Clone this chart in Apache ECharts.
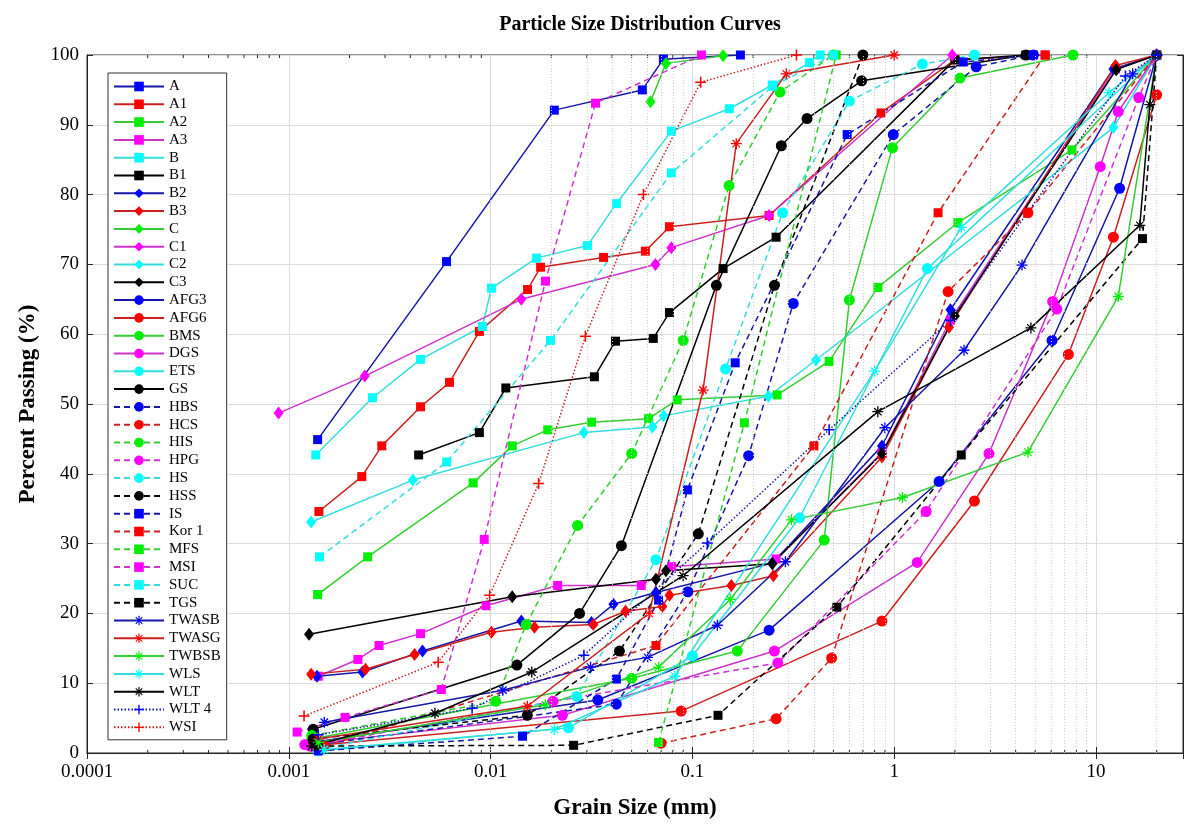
<!DOCTYPE html>
<html>
<head>
<meta charset="utf-8">
<script src="https://cdn.jsdelivr.net/npm/echarts/dist/echarts.min.js"></script>
<style>
  html, body { margin: 0; padding: 0; background: #fff; }
  #chart { width: 1187px; height: 825px; }
</style>
</head>
<body>
<div id="chart"></div>
<script>
// grain size (mm), percent passing
const A      = [[0.00139,44.9],[0.00605,70.4],[0.0207,92.1],[0.0565,95.0],[0.0718,99.4],[0.173,100]];
const A1     = [[0.00141,34.6],[0.0023,39.6],[0.00289,44.0],[0.0045,49.6],[0.00626,53.1],[0.0088,60.4],[0.01525,66.4],[0.0177,69.6],[0.0363,71.0],[0.0585,71.9],[0.077,75.4],[0.24,77.0],[0.86,91.7],[2.0,99.3],[5.6,100]];
const A2     = [[0.00139,22.7],[0.00246,28.1],[0.0082,38.7],[0.0128,44.0],[0.0192,46.3],[0.0316,47.4],[0.0606,47.9],[0.0841,50.6],[0.263,51.3],[0.476,56.1],[0.83,66.7],[2.07,76.0],[7.6,86.4],[20,100]];
const A3     = [[0.0014,11.0],[0.0022,13.4],[0.0028,15.4],[0.0045,17.1],[0.0095,21.1],[0.0215,24.0],[0.0558,24.0],[0.079,26.7],[0.26,27.8],[0.87,43.0],[1.9,62.0],[12.5,98.0],[20,100]];
const B      = [[0.00136,42.7],[0.0026,50.9],[0.0045,56.4],[0.0091,61.1],[0.0101,66.6],[0.0169,70.9],[0.0302,72.7],[0.042,78.7],[0.0787,89.1],[0.1525,92.3],[0.249,95.7],[0.38,98.9],[0.43,100]];
const B1     = [[0.0044,42.7],[0.0088,45.9],[0.0119,52.3],[0.0327,53.9],[0.0416,59.0],[0.064,59.4],[0.077,63.1],[0.142,69.4],[0.26,73.9],[2.0,99.3],[4.5,100]];
const B2     = [[0.00138,11.0],[0.00232,11.6],[0.0046,14.6],[0.0142,18.9],[0.0316,18.7],[0.0406,21.3],[0.066,23.0],[0.249,27.2],[0.87,44.0],[1.9,63.5],[12.2,98.0],[20,100]];
const B3     = [[0.00129,11.3],[0.0024,12.0],[0.0042,14.1],[0.0101,17.3],[0.0165,18.0],[0.0323,18.4],[0.0466,20.3],[0.071,21.0],[0.077,22.6],[0.156,24.0],[0.252,25.4],[0.87,42.4],[1.87,61.0],[12.5,98.5],[20,100]];
const C      = [[0.062,93.3],[0.074,98.8],[0.142,99.9]];
const C1     = [[0.00089,48.7],[0.00238,54.0],[0.0142,65.0],[0.0656,70.0],[0.0787,72.4],[0.24,77.0],[1.94,100]];
const C2     = [[0.00129,33.1],[0.00412,39.1],[0.029,45.9],[0.0634,46.7],[0.072,48.3],[0.238,51.1],[0.41,56.3],[12.2,89.6],[20,100]];
const C3     = [[0.00126,17.0],[0.0128,22.4],[0.066,24.9],[0.074,26.1],[0.249,27.1],[0.87,42.9],[2.0,62.6],[12.6,97.9],[20,100]];
const AFG3   = [[0.0013,1.5],[0.034,7.6],[0.24,17.6],[1.67,38.9],[6.06,59.1],[13.1,80.9],[20,100]];
const AFG6   = [[0.0013,1.0],[0.088,6.0],[0.87,18.9],[2.5,36.1],[7.3,57.1],[12.2,73.9],[20,94.3]];
const BMS    = [[0.0013,2.0],[0.05,10.7],[0.167,14.6],[0.45,30.5],[0.6,64.9],[0.98,86.7],[2.12,96.7],[7.7,100]];
const DGS    = [[0.0012,1.2],[0.0227,5.4],[0.255,14.6],[1.3,27.3],[2.95,42.9],[6.1,64.7],[10.5,84.0],[12.9,91.9],[20,100]];
const ETS    = [[0.0014,0.3],[0.0243,3.6],[0.1,13.9],[0.34,33.7],[1.46,69.4],[20,100]];
const GS     = [[0.00132,3.4],[0.0135,12.6],[0.0276,20.0],[0.0445,29.7],[0.1315,67.0],[0.276,87.0],[0.37,90.9],[0.69,96.3],[4.5,100]];
const HBS    = [[0.0014,1.2],[0.042,7.0],[0.095,23.1],[0.19,42.6],[0.316,64.4],[0.99,88.6],[2.55,98.3],[4.9,100]];
const HCS    = [[0.07,1.4],[0.26,4.9],[0.49,13.6],[1.85,66.1],[4.6,77.4],[20,100]];
const HIS    = [[0.0013,2.5],[0.0106,7.4],[0.015,18.4],[0.027,32.6],[0.05,42.9],[0.09,59.1],[0.152,81.3],[0.272,94.7],[0.5,100]];
const HPG    = [[0.00127,1.0],[0.0204,7.4],[0.265,12.9],[1.44,34.6],[6.4,63.6],[16.3,93.9],[20,100]];
const HS     = [[0.0014,0.5],[0.0267,8.1],[0.066,27.7],[0.146,55.0],[0.28,77.4],[0.6,93.4],[1.38,98.7],[2.5,100]];
const HSS    = [[0.00132,2.0],[0.0152,5.4],[0.0435,14.6],[0.107,31.4],[0.255,67.0],[0.7,100]];
const IS     = [[0.0014,0.3],[0.0144,2.4],[0.042,10.6],[0.068,21.9],[0.0945,37.7],[0.163,55.9],[0.585,88.6],[2.2,99.0],[4.9,100]];
const Kor1   = [[0.0015,1.0],[0.066,15.4],[0.4,44.0],[1.65,77.4],[5.6,100]];
const MFS    = [[0.068,1.5],[0.181,47.3],[0.516,100]];
const MSI    = [[0.0011,3.0],[0.0019,5.1],[0.0057,9.1],[0.0093,30.6],[0.0187,67.6],[0.0331,93.1],[0.111,100]];
const SUC    = [[0.00142,28.1],[0.00606,41.7],[0.0198,59.1],[0.0787,83.1],[0.25,95.5],[0.5,100]];
const TGS    = [[0.0014,1.0],[0.0258,1.1],[0.134,5.4],[0.52,20.9],[2.15,42.7],[17,73.7],[20,100]];
const TWASB  = [[0.0015,4.4],[0.0115,9.0],[0.0313,12.3],[0.06,13.7],[0.133,18.3],[0.289,27.4],[0.9,46.6],[2.22,57.7],[4.3,69.9],[15.2,97.3],[20,100]];
const TWASG  = [[0.0014,2.0],[0.0152,6.7],[0.061,20.0],[0.113,52.0],[0.165,87.3],[0.292,97.3],[1.0,100]];
const TWBSB  = [[0.0014,1.5],[0.0187,6.9],[0.068,12.3],[0.154,22.0],[0.31,33.4],[1.1,36.6],[4.6,43.1],[12.9,65.4],[20,100]];
const WLS    = [[0.0015,0.5],[0.0207,3.4],[0.082,11.0],[0.8,54.7],[2.15,75.3],[11.6,94.6],[20,100]];
const WLT    = [[0.0013,1.0],[0.0053,5.7],[0.016,11.6],[0.09,25.4],[0.83,48.9],[4.76,60.9],[16.5,75.6],[18.5,92.9],[20,100]];
const WLT4   = [[0.0014,2.6],[0.0081,6.4],[0.029,14.0],[0.1186,30.1],[0.476,46.3],[1.9,62.0],[14,97.0],[20,100]];
const WSI    = [[0.00119,5.3],[0.0055,13.0],[0.0099,22.6],[0.0173,38.6],[0.0295,59.7],[0.0572,80.0],[0.11,96.1],[0.328,100]];

const xTickLabels = { 0.0001: '0.0001', 0.001: '0.001', 0.01: '0.01', 0.1: '0.1', 1: '1', 10: '10' };

// line colour, marker colour
const COL = {
  b: ['#1616a8', '#0000ff'],
  r: ['#cc2020', '#ff0000'],
  g: ['#33cc33', '#00ee00'],
  m: ['#cc33cc', '#ff00ff'],
  c: ['#33dddd', '#00ffff'],
  k: ['#000000', '#000000']
};
const STAR = 'path://M4.4,0H5.6V10H4.4Z M0,4.4H10V5.6H0Z M1.2,2L2,1.2L8.8,8L8,8.8Z M8,1.2L8.8,2L2,8.8L1.2,8Z';
const PLUS = 'path://M4.3,0H5.7V10H4.3Z M0,4.3H10V5.7H0Z';
const MARK = {
  sq: ['rect', 9],
  di: ['diamond', [10, 13]],
  ci: ['circle', 11],
  st: [STAR, 11],
  pl: [PLUS, 11]
};
const DASH = { s: 'solid', d: [6, 4], o: [1.5, 2] };

// name, data, colour, marker, line type
const spec = [
  ['A', A, 'b', 'sq', 's'], ['A1', A1, 'r', 'sq', 's'], ['A2', A2, 'g', 'sq', 's'],
  ['A3', A3, 'm', 'sq', 's'], ['B', B, 'c', 'sq', 's'], ['B1', B1, 'k', 'sq', 's'],
  ['B2', B2, 'b', 'di', 's'], ['B3', B3, 'r', 'di', 's'], ['C', C, 'g', 'di', 's'],
  ['C1', C1, 'm', 'di', 's'], ['C2', C2, 'c', 'di', 's'], ['C3', C3, 'k', 'di', 's'],
  ['AFG3', AFG3, 'b', 'ci', 's'], ['AFG6', AFG6, 'r', 'ci', 's'], ['BMS', BMS, 'g', 'ci', 's'],
  ['DGS', DGS, 'm', 'ci', 's'], ['ETS', ETS, 'c', 'ci', 's'], ['GS', GS, 'k', 'ci', 's'],
  ['HBS', HBS, 'b', 'ci', 'd'], ['HCS', HCS, 'r', 'ci', 'd'], ['HIS', HIS, 'g', 'ci', 'd'],
  ['HPG', HPG, 'm', 'ci', 'd'], ['HS', HS, 'c', 'ci', 'd'], ['HSS', HSS, 'k', 'ci', 'd'],
  ['IS', IS, 'b', 'sq', 'd'], ['Kor 1', Kor1, 'r', 'sq', 'd'], ['MFS', MFS, 'g', 'sq', 'd'],
  ['MSI', MSI, 'm', 'sq', 'd'], ['SUC', SUC, 'c', 'sq', 'd'], ['TGS', TGS, 'k', 'sq', 'd'],
  ['TWASB', TWASB, 'b', 'st', 's'], ['TWASG', TWASG, 'r', 'st', 's'], ['TWBSB', TWBSB, 'g', 'st', 's'],
  ['WLS', WLS, 'c', 'st', 's'], ['WLT', WLT, 'k', 'st', 's'], ['WLT 4', WLT4, 'b', 'pl', 'o'],
  ['WSI', WSI, 'r', 'pl', 'o']
];

const FONT = '"Liberation Serif", "Times New Roman", serif';

// minor log positions 2..9 x 10^n
const minorVals = [];
for (let e = -4; e <= 1; e++) {
  for (let k = 2; k <= 9; k++) {
    const v = k * Math.pow(10, e);
    if (v < 27) minorVals.push(v);
  }
}

const series = spec.map(([name, data, col, mk, ls]) => ({
  name: name,
  type: 'line',
  data: data,
  symbol: MARK[mk][0],
  symbolSize: MARK[mk][1],
  showAllSymbol: true,
  lineStyle: { color: COL[col][0], width: 1.5, type: DASH[ls] },
  itemStyle: { color: COL[col][1], borderWidth: 0 },
  emphasis: { disabled: true }
}));

// dotted minor grid
series.unshift({
  type: 'line',
  data: [],
  silent: true,
  z: 1,
  markLine: {
    silent: true,
    symbol: 'none',
    label: { show: false },
    lineStyle: { color: '#cfcfcf', width: 1, type: [1, 2] },
    data: minorVals.map(v => ({ xAxis: v }))
  }
});

// short minor ticks on bottom and top edges
series.push({
  type: 'custom',
  silent: true,
  z: 3,
  data: minorVals.map(v => [v, 0]),
  renderItem: (params, api) => {
    const x = api.coord([api.value(0), 0])[0];
    const cs = params.coordSys;
    const st = { stroke: '#262626', lineWidth: 1 };
    return {
      type: 'group',
      children: [
        { type: 'line', shape: { x1: x, y1: cs.y + cs.height, x2: x, y2: cs.y + cs.height - 3 }, style: st },
        { type: 'line', shape: { x1: x, y1: cs.y, x2: x, y2: cs.y + 3 }, style: st }
      ]
    };
  }
});

const chart = echarts.init(document.getElementById('chart'));
chart.setOption({
  animation: false,
  backgroundColor: '#fff',
  title: {
    text: 'Particle Size Distribution Curves',
    left: 635,
    top: 10,
    textAlign: 'center',
    textStyle: { fontFamily: FONT, fontSize: 20, fontWeight: 'bold', color: '#000' }
  },
  grid: { left: 87, right: 4, top: 55, bottom: 70, show: true, borderColor: '#262626', borderWidth: 1 },
  legend: {
    orient: 'vertical',
    left: 108,
    top: 73,
    data: spec.map(s => s[0]),
    itemWidth: 50,
    itemHeight: 12,
    itemGap: 2.8,
    padding: [6, 6, 5, 5],
    backgroundColor: '#fff',
    borderColor: '#333',
    borderWidth: 1,
    textStyle: { fontFamily: FONT, fontSize: 15, lineHeight: 12, color: '#000' },
    selectedMode: false
  },
  xAxis: [{
    type: 'log',
    logBase: 10,
    min: 0.0001,
    max: 27,
    name: 'Grain Size (mm)',
    nameLocation: 'middle',
    nameGap: 44,
    nameTextStyle: { fontFamily: FONT, fontSize: 23, fontWeight: 'bold', color: '#000' },
    axisLine: { show: true, lineStyle: { color: '#262626' } },
    axisTick: { inside: true, length: 6, lineStyle: { color: '#262626' } },
    axisLabel: {
      fontFamily: FONT, fontSize: 19, color: '#000', margin: 10,
      showMaxLabel: false,
      formatter: v => {
        for (const k in xTickLabels) {
          if (Math.abs(Math.log10(v) - Math.log10(+k)) < 1e-6) return xTickLabels[k];
        }
        return '';
      }
    },
    splitLine: { show: true, lineStyle: { color: '#dcdcdc', width: 1 } }
  }, {
    type: 'log',
    logBase: 10,
    min: 0.0001,
    max: 27,
    position: 'top',
    axisLine: { show: true, lineStyle: { color: '#262626' } },
    axisTick: { inside: true, length: 6, lineStyle: { color: '#262626' } },
    axisLabel: { show: false },
    splitLine: { show: false }
  }],
  yAxis: [{
    type: 'value',
    min: 0,
    max: 100,
    interval: 10,
    name: 'Percent Passing (%)',
    nameLocation: 'middle',
    nameGap: 47,
    nameTextStyle: { fontFamily: FONT, fontSize: 23, fontWeight: 'bold', color: '#000' },
    axisLine: { show: true, lineStyle: { color: '#262626' } },
    axisTick: { inside: true, length: 6, lineStyle: { color: '#262626' } },
    axisLabel: { fontFamily: FONT, fontSize: 19, color: '#000', margin: 8 },
    splitLine: { show: true, lineStyle: { color: '#dcdcdc', width: 1 } }
  }, {
    type: 'value',
    min: 0,
    max: 100,
    interval: 10,
    position: 'right',
    axisLine: { show: true, lineStyle: { color: '#262626' } },
    axisTick: { inside: true, length: 6, lineStyle: { color: '#262626' } },
    axisLabel: { show: false },
    splitLine: { show: false }
  }],
  series: series
});
</script>
</body>
</html>
